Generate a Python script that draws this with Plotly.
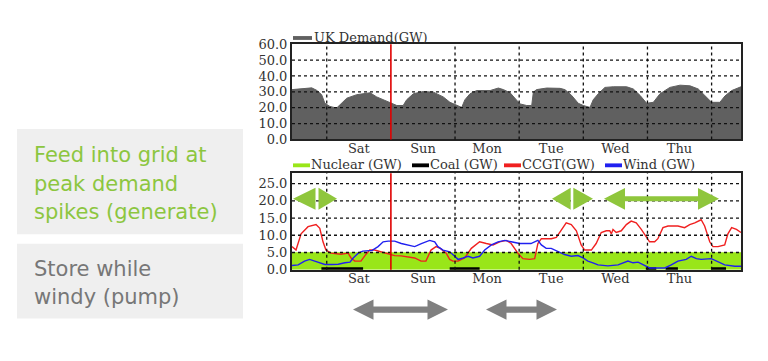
import plotly.graph_objects as go

# ---------------- data (hours from Fri ~11:00, GW) ----------------
days = ["Sat", "Sun", "Mon", "Tue", "Wed", "Thu"]
day_noon_hours = [25, 49, 73, 97, 121, 145]
midnight_hours = [13, 37, 61, 85, 109, 133, 157]
marker_hour = 37  # red vertical marker

demand_ticks = [0, 10, 20, 30, 40, 50, 60]
gen_ticks = [0, 5, 10, 15, 20, 25]

demand_hours = [0, 5.5, 7.4, 9.2, 11.1, 12.3, 14.2, 16.7, 18.6, 20.5, 24.2, 27.3, 29.2, 31.7,
                34.2, 36.7, 39.2, 41.6, 42.9, 45.4, 49.1, 52.9, 56.6, 59.1, 61.6, 63.5, 64.7,
                66.6, 69.1, 74.1, 77.2, 79.1, 81.6, 84.1, 85.3, 87.8, 89.7, 90.3, 91.5, 95.3,
                100.3, 102.1, 104.6, 107.1, 109.0, 111.5, 112.7, 114.6, 117.1, 120.2, 125.2,
                127.7, 130.2, 132.7, 135.2, 137.7, 141.4, 145.2, 148.9, 152.0, 154.5, 157.0,
                160.1, 162.0, 164.5, 168]
demand_gw = [31.4, 32.4, 32.5, 31.0, 28.2, 22.8, 20.8, 19.8, 22.8, 26.0, 28.2, 28.8, 29.4, 26.8,
             25.0, 22.8, 21.4, 21.4, 25.0, 28.8, 30.2, 29.8, 26.8, 23.4, 21.4, 20.2, 25.0,
             28.8, 30.8, 30.8, 32.4, 31.4, 29.4, 25.0, 22.4, 21.4, 21.4, 29.8, 31.4, 32.4,
             32.2, 31.4, 27.8, 22.8, 21.4, 20.2, 25.0, 28.8, 32.8, 33.2, 33.2,
             31.8, 27.8, 22.8, 23.4, 28.8, 32.8, 34.2, 33.8, 31.8, 27.4, 23.4,
             23.4, 27.4, 30.8, 33.2]

nuclear_hours = [0, 168]
nuclear_gw = [4.9, 4.9]

coal_hours = [11, 26.6, None, 59, 70.2, None, 132.4, 136.3, None, 139.8, 144.4, None, 157, 162.4]
coal_gw = [0.3, 0.3, None, 0.3, 0.3, None, 0.3, 0.3, None, 0.3, 0.3, None, 0.3, 0.3]

ccgt_hours = [0, 1.5, 3.4, 6, 9, 10.4, 11.6, 12.7, 14.6, 18.3, 21, 22.1, 23.5, 25.8, 27.7, 29.1,
              30.9, 33.3, 35.9, 38.4, 40.8, 45.9, 48.3, 50.1, 52, 53.9, 55.5, 57.7, 59, 60.2,
              62.1, 64.6, 67.1, 70.2, 72.7, 75.2, 77.7, 80.2, 82, 84.5, 86.4, 88.9, 90.8, 92,
              93.3, 97, 98.9, 100.7, 102.6, 104.5, 106.4, 108.2, 109.5, 112, 113.8, 115.7,
              117.6, 118.9, 119.5, 120.1, 121.3, 123.2, 125.1, 126.9, 128.8, 130.7, 132.5,
              133.8, 135.7, 136.9, 138.8, 140.7, 144.4, 146.9, 148.8, 150.7, 153.1, 154.4,
              156.3, 157.5, 159.4, 161.9, 163.1, 164.5, 166.3, 168]
ccgt_gw = [6.7, 5.7, 10.4, 12.5, 13.1, 12.0, 8.1, 5.7, 4.8, 4.5, 4.8, 3.4, 2.5, 2.5, 4.5, 5.7,
           5.7, 5.2, 4.8, 4.1, 4.0, 3.4, 2.5, 2.5, 5.7, 6.7, 6.2, 4.8, 3.0, 2.5,
           2.5, 3.4, 6.2, 8.1, 7.6, 7.2, 8.1, 8.5, 7.6, 4.8, 3.2, 3.0, 3.2, 7.6,
           9.0, 9.0, 9.4, 11.3, 13.6, 13.1, 11.3, 7.2, 5.7, 5.7, 7.6, 10.8,
           11.3, 11.3, 10.4, 11.7, 10.8, 11.3, 13.1, 14.1, 13.6, 11.7, 9.4,
           8.1, 8.1, 9.0, 12.2, 12.7, 12.7, 12.2, 13.1, 13.6, 14.5, 12.7,
           8.1, 6.7, 6.7, 7.2, 10.4, 12.2, 11.7, 10.8]

wind_hours = [0, 2.3, 4.7, 6.6, 8.5, 10.4, 12.3, 14.8, 17.3, 19.8, 21.7, 22.9, 24.8, 26.5, 30,
              32.2, 34.1, 36, 38.4, 40.9, 43.4, 45.9, 48.4, 51.5, 53.4, 54.6, 56.5, 59, 60.9,
              62.1, 64, 65.9, 67.7, 70.2, 72.1, 74.6, 77.1, 79.6, 82, 85.2, 89.4, 92, 93.3,
              95.1, 97, 99.5, 102, 104.5, 107, 108.9, 110.7, 112.6, 114.5, 118.2, 122, 125.7,
              127.6, 129.5, 132, 133.8, 136.9, 139.5, 141.9, 144.4, 147.5, 149.4, 151.3,
              153.1, 156.9, 159.4, 161.9, 165.7, 168]
wind_gw = [1.2, 1.4, 2.5, 3.0, 2.5, 2.0, 1.5, 1.5, 1.6, 2.0, 2.2, 3.4, 4.8, 5.4, 5.6,
           6.7, 8.1, 8.3, 8.3, 7.6, 7.2, 6.7, 7.6, 8.5, 8.1, 6.7, 5.7, 5.2, 3.9,
           3.0, 3.4, 3.9, 3.4, 3.9, 5.7, 7.2, 8.1, 8.5, 8.1, 7.6, 7.6, 8.5, 7.2,
           6.2, 6.2, 5.2, 4.4, 3.9, 4.1, 3.4, 2.5, 2.0, 1.4, 1.1, 1.4, 2.5,
           2.0, 2.2, 1.1, 0.5, 0.5, 0.5, 1.4, 2.5, 3.0, 3.9, 3.2,
           3.0, 3.2, 2.2, 1.4, 1.0, 1.0]

gen_series = ["Nuclear (GW)", "Coal (GW)", "CCGT(GW)", "Wind (GW)"]
gen_colors = ["#99e619", "#000000", "#f02020", "#2020f0"]
demand_color = "#606060"

# ---------------- layout helpers (page pixel -> paper; page body has an 8px margin) ----------------
OFF = 8
W, H = 768 - OFF, 361 - OFF
def px(x): return (x - OFF) / W
def py(y): return 1 - (y - OFF) / H

tick_font = dict(family="DejaVu Serif", size=13, color="#333333")
leg_font = dict(family="DejaVu Serif", size=13, color="#333333")

fig = go.Figure()
fig.add_trace(go.Scatter(x=demand_hours, y=demand_gw, mode="lines", fill="tozeroy",
                         line=dict(color=demand_color, width=1), fillcolor=demand_color,
                         xaxis="x", yaxis="y", hoverinfo="skip", showlegend=False))
fig.add_trace(go.Scatter(x=nuclear_hours, y=nuclear_gw, mode="lines", fill="tozeroy",
                         line=dict(color=gen_colors[0], width=1), fillcolor=gen_colors[0],
                         xaxis="x2", yaxis="y2", hoverinfo="skip", showlegend=False))
fig.add_trace(go.Scatter(x=coal_hours, y=coal_gw, mode="lines", connectgaps=False,
                         line=dict(color=gen_colors[1], width=3),
                         xaxis="x2", yaxis="y2", hoverinfo="skip", showlegend=False))
fig.add_trace(go.Scatter(x=ccgt_hours, y=ccgt_gw, mode="lines",
                         line=dict(color=gen_colors[2], width=1.4),
                         xaxis="x2", yaxis="y2", hoverinfo="skip", showlegend=False))
fig.add_trace(go.Scatter(x=wind_hours, y=wind_gw, mode="lines",
                         line=dict(color=gen_colors[3], width=1.4),
                         xaxis="x2", yaxis="y2", hoverinfo="skip", showlegend=False))

x_dom = [px(292), px(741)]
common_x = dict(range=[0, 168], tickvals=day_noon_hours, ticktext=days, showgrid=False,
                zeroline=False, showline=True, mirror=True, linecolor="#222222", linewidth=2,
                ticks="", tickfont=tick_font, fixedrange=True, ticklabelstandoff=-4)
common_y = dict(showgrid=False, zeroline=False, showline=True, mirror=True,
                linecolor="#222222", linewidth=2, ticks="", tickformat=".1f",
                tickfont=tick_font, fixedrange=True)

shapes = []
# background boxes on the left
shapes.append(dict(type="rect", xref="paper", yref="paper", x0=px(17), x1=px(243),
                   y0=py(237), y1=py(127), fillcolor="#efefef", line=dict(width=0), layer="below"))
shapes.append(dict(type="rect", xref="paper", yref="paper", x0=px(17), x1=px(243),
                   y0=py(325), y1=py(247), fillcolor="#efefef", line=dict(width=0), layer="below"))

grid_line = dict(color="#111111", width=1.3, dash="dot")
for xa, ya, ticks in (("x", "y", demand_ticks), ("x2", "y2", gen_ticks)):
    for v in ticks[1:]:
        if ya == "y" and v == ticks[-1]:
            continue
        shapes.append(dict(type="line", xref=xa + " domain", yref=ya, x0=0, x1=1, y0=v, y1=v,
                           line=grid_line, layer="above"))
    for m in midnight_hours:
        if m == marker_hour:
            continue
        shapes.append(dict(type="line", xref=xa, yref=ya + " domain", x0=m, x1=m, y0=0, y1=1,
                           line=grid_line, layer="above"))
    shapes.append(dict(type="line", xref=xa, yref=ya + " domain", x0=marker_hour, x1=marker_hour,
                       y0=0, y1=1, line=dict(color="#e00000", width=1.6), layer="above"))

def poly(points, color):
    d = "M " + " L ".join(f"{px(x):.5f},{py(y):.5f}" for x, y in points) + " Z"
    return dict(type="path", xref="paper", yref="paper", path=d, fillcolor=color,
                line=dict(width=0), layer="above")

def double_arrow(x0, x1, yc, head, hh, ht, color):
    pts = [(x0, yc), (x0 + head, yc - hh), (x0 + head, yc - ht), (x1 - head, yc - ht),
           (x1 - head, yc - hh), (x1, yc), (x1 - head, yc + hh), (x1 - head, yc + ht),
           (x0 + head, yc + ht), (x0 + head, yc + hh)]
    return poly(pts, color)

def split_arrow(x0, xg0, xg1, x1, yc, hh, color):
    return [poly([(x0, yc), (xg0, yc - hh), (xg0, yc + hh)], color),
            poly([(x1, yc), (xg1, yc - hh), (xg1, yc + hh)], color)]

green = "#8fc63c"
grey = "#808080"
shapes += split_arrow(293, 315.5, 318.5, 337, 200, 11.5, green)
shapes += split_arrow(552, 570.7, 573.3, 593, 200, 11.5, green)
shapes.append(double_arrow(604, 719, 200, 21, 11.3, 2.6, green))
shapes.append(double_arrow(353, 448, 315.7, 20.5, 10.5, 3.3, grey))
shapes.append(double_arrow(486, 557, 315.7, 20.5, 10.5, 3.3, grey))

# manual legends
annotations = []
shapes.append(dict(type="rect", xref="paper", yref="paper", x0=px(293), x1=px(312),
                   y0=py(34), y1=py(30), fillcolor=demand_color, line=dict(width=0)))
annotations.append(dict(text="UK Demand(GW)", x=px(312), y=py(31), xref="paper", yref="paper",
                        xanchor="left", yanchor="middle", showarrow=False, font=leg_font))
leg_x = [293, 412, 504, 605]
for name, col, lx in zip(gen_series, gen_colors, leg_x):
    shapes.append(dict(type="rect", xref="paper", yref="paper", x0=px(lx), x1=px(lx + 17),
                       y0=py(167), y1=py(163), fillcolor=col, line=dict(width=0)))
    annotations.append(dict(text=name, x=px(lx + 16), y=py(164), xref="paper", yref="paper",
                            xanchor="left", yanchor="middle", showarrow=False, font=leg_font))

side_font_g = dict(family="DejaVu Sans", size=21, color="#8cc63f")
side_font_s = dict(family="DejaVu Sans", size=21, color="#777777")
for txt, yy in (("Feed into grid at", 154), ("peak demand", 184), ("spikes (generate)", 214)):
    annotations.append(dict(text=txt, x=px(32), y=py(yy), xref="paper", yref="paper",
                            xanchor="left", yanchor="middle", showarrow=False, font=side_font_g))
for txt, yy in (("Store while", 273), ("windy (pump)", 303)):
    annotations.append(dict(text=txt, x=px(32), y=py(yy), xref="paper", yref="paper",
                            xanchor="left", yanchor="middle", showarrow=False, font=side_font_s))

fig.update_layout(
    width=W, height=H, margin=dict(l=0, r=0, t=0, b=0),
    paper_bgcolor="white", plot_bgcolor="white", showlegend=False,
    xaxis=dict(domain=x_dom, anchor="y", **common_x),
    yaxis=dict(domain=[py(138), py(38.5)], range=[0, 60], tickvals=demand_ticks, anchor="x", **common_y),
    xaxis2=dict(domain=x_dom, anchor="y2", **common_x),
    yaxis2=dict(domain=[py(274), py(173.3)], range=[0, 28], tickvals=gen_ticks, anchor="x2", **common_y),
    shapes=shapes, annotations=annotations,
)

fig.write_html("out.html")
